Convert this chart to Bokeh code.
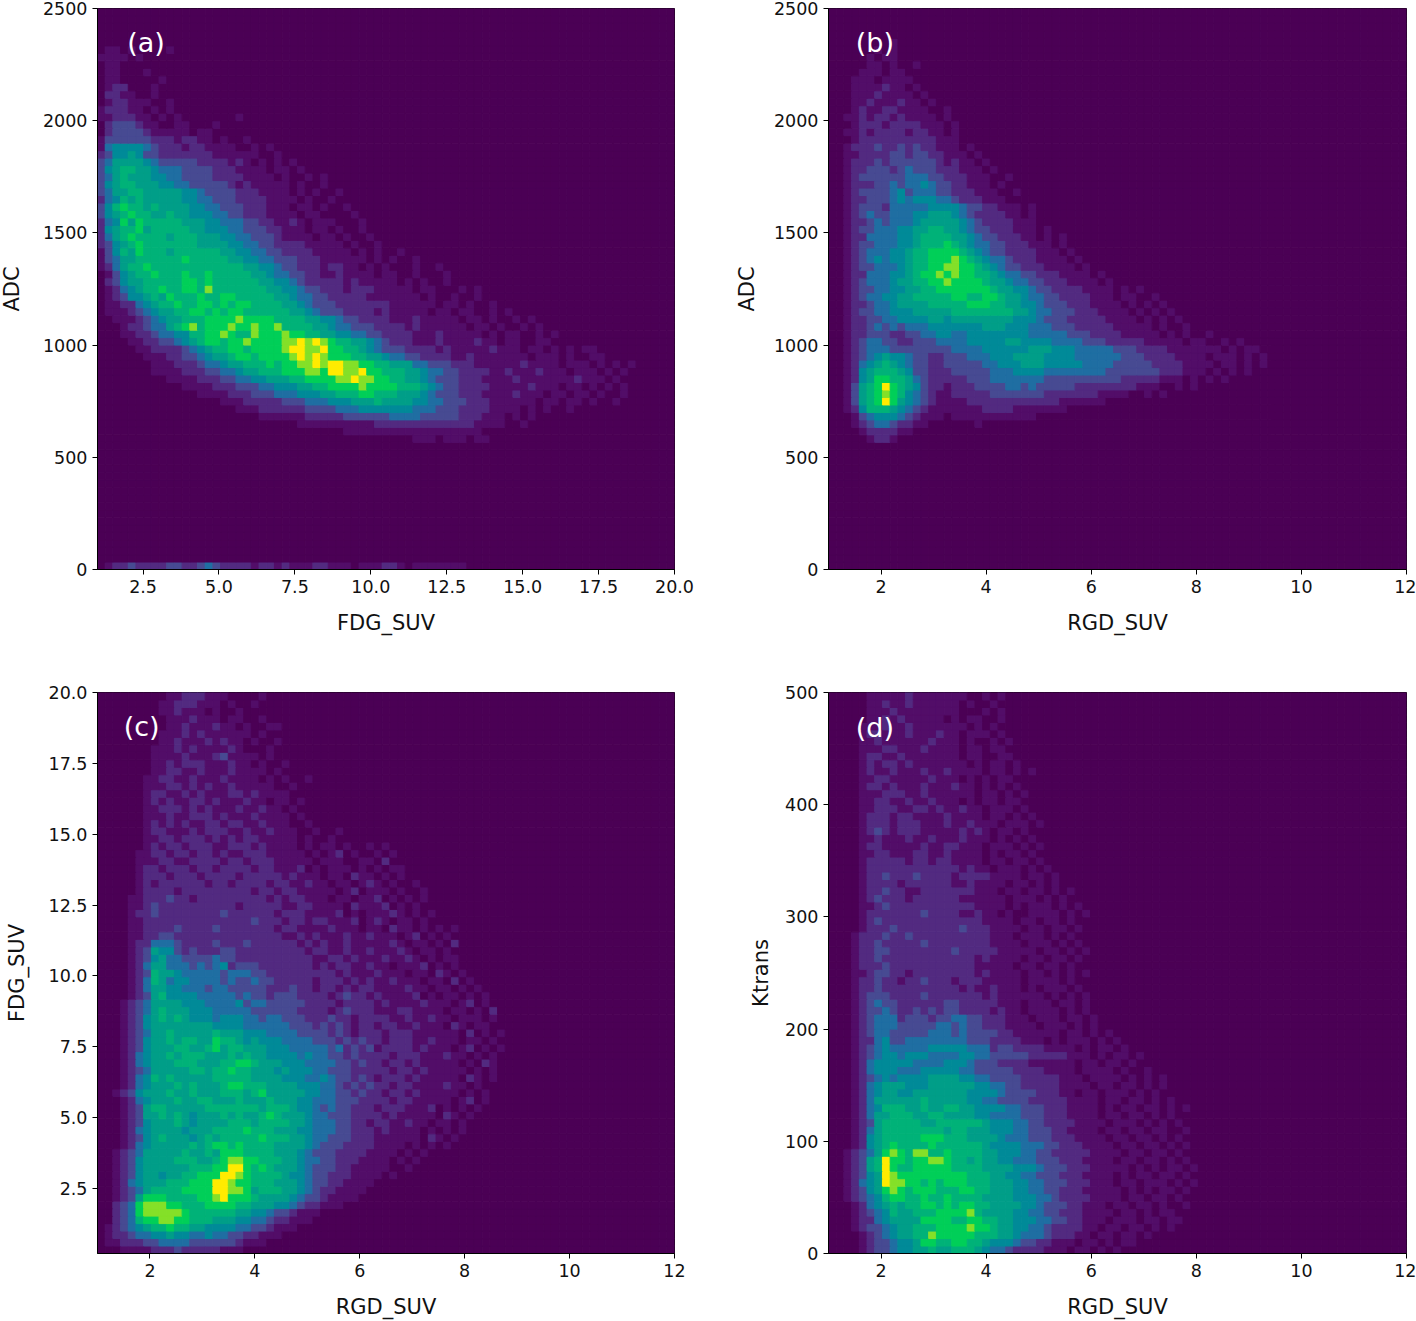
from bokeh.plotting import figure
from bokeh.models import FixedTicker, Label, LinearColorMapper, NumeralTickFormatter, ColumnDataSource
from bokeh.layouts import column, row
from bokeh.transform import transform
from bokeh.embed import file_html
from bokeh.resources import INLINE
import numpy as np

BINS = 75
PALETTE = ["#4b0055","#520d68","#522a80","#474a92","#1f6ea2","#008a98","#009e88","#00b278","#00cf58","#84e028","#ffeb00"]

# Colour level per bin (0..a), top row first, in chunks of five columns; omitted trailing bins are background.
grid_a = [
"00000","00000","00000","00000","00000","01101 00001","11110 10000","01100","01100 01","01100 00010",
"01220 00100","02211 00100","01221 11001","12221 10101","11222 11010 10000 00010","02333 21100 11000 10","02333 32111 11011 00",
"13333 33222 12211 01001","14555 54322 21221 11100 10100","23556 53322 22222 11111 10010","34666 65433 33322 22121 01010 1",
"35677 66544 43333 22211 11011 01","34676 66554 43333 22221 11101 00101","35677 66655 44333 33212 11111 01001",
"34667 76666 65543 33322 21111 01010 01","24576 76666 65544 33322 22111 10100 1","35787 76766 66554 43332 22111 01101 001",
"35678 77667 66555 44332 22111 10110 0001","24586 87777 76665 54443 32211 21011 10001","25677 86777 77665 55443 33221 11011 01001",
"24678 77776 77766 65544 33321 11101 10100 1","23567 87777 77766 66554 43322 22111 11010 01","13576 87776 77777 76655 44332 22211 11101 01001",
"13466 77777 78777 77665 54433 32221 11111 01010 01","12467 78777 77777 77776 65543 32221 22110 10100 01001","01356 77877 78778 77777 66544 33221 12111 10110 01000 1",
"02356 67777 78878 77777 76655 43222 22121 11110 10100 10","01245 67787 78879 77777 77665 54332 22122 21111 10110 00101","01235 56768 77787 78877 77766 54433 22222 11111 11010 01001",
"01122 45677 87788 78788 77776 65433 32222 22211 11110 11010 01","01112 34566 77887 87887 77777 66543 33222 21211 11101 10110 01010","00111 23456 67778 88898 88877 77665 54332 22211 12111 11011 01001 01",
"00012 23446 78978 88988 98897 77766 54433 32222 12111 11101 10100 10100","00011 22344 55778 89877 98889 88776 65544 33222 21112 11111 01011 00101","00001 12233 45678 87889 88889 9a9a9 87766 54322 21112 11112 11011 00110",
"00000 11222 23456 77887 88889 aa99a 88776 54333 22221 21111 12111 01101 01011","00000 01112 23345 66788 78888 9a9a9 88877 66544 33222 21121 11111 10111 01001 1","00000 00111 22234 45667 77878 899a9 aa998 87766 64433 32221 11111 21111 01110 10101",
"00000 00111 12223 34456 67778 88998 aa99a 88777 66544 33222 21121 11211 10111 01010","00000 00001 11122 23344 55666 77888 899a9 98877 66543 33222 11112 11111 11211 1010","00000 00000 01111 22233 34455 56677 88889 88887 77654 33222 21111 12111 01101 01010",
"00000 00000 00011 11222 33344 45556 67778 87776 66543 33222 11112 11101 10110 1001","00000 00000 00000 01112 22223 33444 55566 67666 65544 33322 21111 11011 01101 001","00000 00000 00000 00011 12222 22333 34445 55555 54443 33222 21111 01010 01",
"00000 00000 00000 00000 01111 11222 22333 33344 44333 33222 11101 01","00000 00000 00000 00000 00000 01111 11111 12222 22222 22221 11100 1","00000 00000 00000 00000 00000 00000 00111 11111 11111 11111 0",
"00000 00000 00000 00000 00000 00000 00000 00000 01110 11101 1",
] + [""] * 16 + ["01223 22223 32234 32222 12212 11122 11101 11221 01111 1110"]

grid_b = [
"","","","","00000 00010 0","00000 01010","00000 10110","00000 11010 01","00001 11011 0","00011 10111 10",
"00011 11211 01","00011 12111 10100","00011 21112 11010","00012 11221 11100 1","00112 12212 11110 1","00012 22122 22111 01","00112 12222 12211 010",
"00012 22222 22221 1100","00122 23223 23221 1101","00112 22233 23322 1110 1","00122 23233 33332 1211 01","00122 33323 43332 22111 01","00123 33333 44433 22211 1001",
"00122 23343 44543 32211 101","00123 33345 34443 32221 11001","00122 33345 45554 43222 11100","00123 33244 44455 55433 22111 01","00123 43344 45566 65432 22211 01","00122 34344 45666 66543 22221 11",
"00123 34445 56677 66543 32221 1101","00122 44445 56777 76654 33222 11010 1","00123 34445 56777 87654 43322 21110 1","00123 44455 67788 88765 43322 22111 01","00123 45455 67788 89876 54432 22111 101",
"00123 34445 67788 99887 65433 22211 1101","00122 44455 67889 89887 76544 33222 11110 1","00123 44456 67788 98888 76654 43322 21111 01","00123 34455 66778 88888 87665 54332 22211 11010 1","00123 44556 67777 78877 88766 54433 22221 11011 001",
"00122 34456 66677 77788 87766 55433 32221 11101 0101","00123 34455 56666 67777 77776 65443 33222 11110 10101","00122 33445 55566 56666 66665 55433 32222 21111 01010 1","00122 34343 44455 55555 66655 54443 33222 22111 11010 01",
"00122 33322 33445 54455 55555 54444 43332 22211 11101 01001","00123 44332 23334 44455 55566 55554 44433 32222 21111 10110 01010","00123 44433 33333 34444 55555 56665 55444 44333 22221 11111 10101 1","00123 45655 43322 33344 45556 66655 55444 44433 32222 11110 11101 01",
"00124 56765 43322 33333 44555 66655 55544 44333 33222 21111 01101 01","00125 67776 53322 23333 34445 55544 44444 43333 33322 21110 10101","00125 68877 64322 22233 34444 44433 33333 33322 22211 10101 01","00136 78a87 65322 12223 33344 34333 33222 22222 11100 1010",
"00136 78987 54321 12222 23333 33322 22222 11110 0101","00136 78a86 54321 11122 22222 22222 11111 10","00125 77765 43211 11111 22221 11111 100","00013 45554 32111 01111 11111 110","00012 34432 21100 00001 0","00001 22221 10000","00000 12210 00",
]
grid_c = [
"00000 00001 12221 11000 01000","00000 00011 22211 10100 1","00000 00011 21110 10010","00000 00001 11211 10110 01","00000 00001 12111 21101 0011",
"00000 00011 12121 11111 0100","00000 00011 21112 12110 10010","00000 00111 21211 11210 0010","00000 00111 12111 23111 10100","00000 00112 12221 11211 01001",
"00000 00112 21121 11211 11010","00000 01122 11211 12111 10101 001","00000 01112 21212 11211 11100 1","00000 01221 12121 11221 21111 0","00000 01212 11221 21112 11011 01",
"00000 01122 21212 11121 12110 1","00000 01112 11222 12111 21111 01","00000 01212 12112 21221 12111 0010","00000 01221 11212 22112 11211 10010 01","00000 01122 12221 21212 21111 10100 1",
"00000 01212 21222 11222 12111 10101 10100 101","00000 11221 22122 12112 22111 11010 12010 0101","00000 11122 11222 21221 22211 11101 11001 1020","00000 12212 22122 12222 12211 12010 11101 01011","00000 12221 22212 22212 22221 21110 11021 10101",
"00000 12122 22221 22122 22122 11211 01101 21010 01","00000 12222 12222 22222 12212 21111 10120 11101 001","00001 12223 22122 22222 22121 22111 01101 12010 101","00001 12322 22222 22212 22221 12211 11021 11201 01","00001 22322 22222 23222 22212 22111 12010 11121 0101",
"00001 12222 22222 22222 32221 22122 11120 12101 1010","00001 12222 32222 32222 22212 21111 21110 11021 10101 01","00001 12233 22222 22222 22221 12121 11211 21110 12010 1","00001 22444 32222 32223 22222 21212 11211 11121 01101 02","00001 23655 32322 23322 22222 22122 11211 21112 10110 1",
"00001 23564 43333 43322 22222 22211 22121 11211 21010 11","00001 24664 44343 45233 32222 22212 12211 21101 11201 01","00001 23766 54444 43444 33222 22222 21211 12111 01102 101","00001 24764 55444 43433 43322 22212 22121 21121 11011 0201","00001 24665 54443 44333 33222 32212 21212 21111 21101 10101",
"00001 23675 55544 44434 33233 32222 12322 12111 12010 11010 1","00012 34666 65554 44453 44333 33222 21222 21211 11211 10120 1","00012 34676 66555 44444 33333 32222 12322 21112 21111 01101 02","00012 35676 76555 45554 43443 33222 32212 22211 21121 10111 01","00012 35666 66666 55554 44444 33323 23212 21221 12111 02101 1",
"00012 34667 66666 76665 55444 43333 23212 22122 21111 11020 101","00012 35667 67766 87765 65554 44433 32323 22122 21121 11011 01","00012 35666 77667 86776 66555 44444 34232 31222 21211 10120 101","00012 45667 67776 66767 66555 54544 33232 22212 22111 21101 01","00012 45666 77766 67788 76665 55444 43323 22122 12111 11010 21",
"00012 34666 66776 77877 66656 55544 33322 22212 21211 11101 01","00012 45767 66666 77777 66665 55445 43323 21222 12111 11021 01","00012 45666 76766 67887 77666 65554 43232 32212 21111 21101","00123 56667 66766 67776 78666 66554 43323 22122 12111 11010 1","00012 45666 76677 66676 66766 65544 43332 22212 21111 10120 1",
"00012 36776 66667 77777 76777 65543 43322 21222 11120 10101","00012 36676 76566 67676 67876 66544 33322 22121 11110 21010","00012 35666 76566 66777 67777 66544 43322 12211 21101 1010","00012 45666 65666 77778 77766 65544 43322 21211 11010 101","00012 35676 66567 67777 78777 66544 33322 21111 11021 01",
"00012 45666 66767 88787 77766 66543 33222 21111 01010 1","00123 46666 67667 68887 77766 65433 32222 11110 1010","00123 56666 77766 78998 87776 65443 32221 11101 01","00123 56666 66777 88aa8 78766 65433 32211 11100 1","00123 56656 67788 8aa98 77776 55433 22211 1101",
"00124 56667 77888 aa988 77766 65433 22111 1","00123 46777 78888 aa998 67776 65432 21111","00123 68887 77788 9a888 76666 54332 11110","00234 89998 87778 88877 66655 43221 1100","00234 89999 98777 77766 55433 21110",
"00234 78899 88777 66655 44322 1110","01234 56778 77665 55544 33211 1","01223 44556 55445 44332 21110","01122 23344 44333 33321 1100","00011 11222 32222 21110",
]
grid_d = [
"00000 11111 21111 11100 10100","00000 11211 21111 11010 01","00000 11121 11111 11000 101","00000 11212 11111 01011 001","00001 11211 21111 11101 01",
"00001 22111 21112 11011 1010","00001 12111 11121 11010 0101","00001 11221 11211 11011 0110","00001 22112 11111 11011 00110","00001 21221 21111 11101 01101",
"00001 21121 11211 21111 01101 01","00001 12211 11121 11010 10110","00001 22121 11211 12110 10101","00001 11222 11211 11110 11010 1","00001 12211 21121 11010 11011",
"00001 12221 12212 11211 01110 1","00001 22212 21111 21111 01101 01","00001 22212 22111 21121 11011 101","00001 23212 22111 11212 10110 1","00001 12111 21121 11211 10101 01",
"00001 22111 11211 22111 01110 101","00001 12211 12211 21111 01011 01","00001 22222 12212 21111 01101 1010","00001 22222 22222 22121 10111 0101","00001 22322 23222 21222 21111 01101",
"00001 22221 22222 21121 11101 10101","00001 22322 11222 22221 11011 01101 01","00001 23222 12222 22111 11101 11010 1","00001 12322 22222 22221 11101 01110 101","00001 22222 22322 22112 11010 01111 0101",
"00001 23222 22222 22222 11110 11011 01","00001 22232 22222 22322 21111 01101 101","00012 22322 32222 22222 21110 11101 01","00012 23222 22322 22222 21111 01110 101","00012 23322 22222 23222 22111 11011 0101",
"00012 23222 22222 22221 21111 01101 101","00012 22322 22222 22221 11110 11011 01","00011 23322 12222 22221 21111 01101 0101","00012 23221 22322 21222 11111 01111 01","00012 23222 22222 22121 12111 01011 1010",
"00012 33322 22322 22222 12111 11101 0101","00012 34332 22222 33222 22111 01110 1101","00012 33432 23232 33222 21211 01111 0101","00012 34442 33323 34433 22211 10111 01101","00012 34443 33334 43433 22211 11011 10101",
"00012 34433 33344 43433 33221 11111 01101 01","00012 24533 44444 44433 32222 11101 01110 101","00012 34544 44455 55544 42332 22211 11010 1101","00012 34554 55544 44554 43333 32222 21110 10110 1","00012 45555 54444 55543 33222 21111 11011 01101",
"00012 45554 44555 55443 33332 22211 11011 11010 01","00012 34545 55566 66554 43333 22222 11101 11101 0101","00012 45666 55566 66665 54433 22222 11110 11011 01010","00012 45665 56666 66655 55433 33222 11011 01110 1010","00012 46666 66766 66655 44333 32222 21111 01101 10101",
"00012 45777 66766 77665 55544 33322 21111 01011 01101 01","00012 46677 76677 66665 54444 33322 21111 01101 10101 0","00012 36777 77667 77777 65554 43322 22111 10111 01010 1","00012 46777 77777 67766 65554 43332 21111 01101 10110 01","00012 56777 77888 77766 66544 43332 22111 10110 11010 1",
"00012 56787 77787 77777 65555 44433 22211 11011 01101 01","00123 46898 79977 87777 66555 44332 22221 11101 10110 1","00123 67a88 78899 87767 66554 44333 22211 11011 01101 01","00123 67a87 78888 87777 66665 55433 32221 11110 10101 101","00123 56a98 88888 88877 76655 44333 22211 11010 11011 01",
"00124 56a99 88787 88877 76665 54433 32221 11011 01110 101","00123 56898 78887 77887 76665 54433 22211 11101 01011 01","00123 45788 77877 87777 66665 55443 22221 11101 10110 1","00012 45676 77887 87887 76666 55433 32211 10110 11010 01","00012 34576 67778 88897 66665 54433 22211 11011 01011 0",
"00012 24566 66888 87788 77665 55443 32211 10111 01101 1","00012 33456 67778 88898 87665 54432 22211 01101 10101","00001 23456 67798 88887 77665 44432 22110 11011 01","00001 23345 56887 78877 65554 33221 11011 01011","00001 23345 56676 67776 54432 22211 10110 101",
]

panels = [
    dict(grid=grid_a, xr=(1, 20), yr=(0, 2500), xt=[2.5,5,7.5,10,12.5,15,17.5,20], yt=[0,500,1000,1500,2000,2500],
         xl="FDG_SUV", yl="ADC", tag="(a)", tx=1.98, ty=2350, xf="0.0", yf="0", ysd=16),
    dict(grid=grid_b, xr=(1, 12), yr=(0, 2500), xt=[2,4,6,8,10,12], yt=[0,500,1000,1500,2000,2500],
         xl="RGD_SUV", yl="ADC", tag="(b)", tx=1.52, ty=2350, xf="0", yf="0", ysd=12),
    dict(grid=grid_c, xr=(1, 12), yr=(0.2, 20), xt=[2,4,6,8,10,12], yt=[2.5,5,7.5,10,12.5,15,17.5,20],
         xl="RGD_SUV", yl="FDG_SUV", tag="(c)", tx=1.5, ty=18.8, xf="0", yf="0.0", ysd=17),
    dict(grid=grid_d, xr=(1, 12), yr=(0, 500), xt=[2,4,6,8,10,12], yt=[0,100,200,300,400,500],
         xl="RGD_SUV", yl="Ktrans", tag="(d)", tx=1.52, ty=469, xf="0", yf="0", ysd=9),
]

def make(cfg, left, fw, right, top, bottom, margin=0):
    p = figure(output_backend="svg", toolbar_location=None,
               frame_width=fw, frame_height=561, width=left + fw + right, height=top + 561 + bottom,
               min_border_left=left, min_border_right=right, min_border_top=top, min_border_bottom=bottom,
               x_range=cfg["xr"], y_range=cfg["yr"], margin=margin)
    rows = [r.replace(" ", "") for r in cfg["grid"]]
    rows = (rows + [""] * BINS)[:BINS]
    rows = [r.ljust(BINS, "0")[:BINS] for r in rows]
    lev = np.array([[int(c, 16) for c in r] for r in rows[::-1]], dtype=float)
    xe = np.linspace(*cfg["xr"], BINS + 1)
    ye = np.linspace(*cfg["yr"], BINS + 1)
    ix, iy = np.meshgrid(np.arange(BINS), np.arange(BINS))
    src = ColumnDataSource(dict(left=xe[ix.ravel()], right=xe[ix.ravel() + 1],
                                bottom=ye[iy.ravel()], top=ye[iy.ravel() + 1], v=lev.ravel()))
    mapper = LinearColorMapper(palette=PALETTE, low=-0.5, high=10.5)
    p.quad(left="left", right="right", bottom="bottom", top="top", source=src,
           fill_color=transform("v", mapper), line_color=transform("v", mapper), line_width=1)
    p.grid.visible = False
    p.outline_line_color = "#000000"
    p.outline_line_width = 1
    for ax, ticks, lab, fmt, sd in ((p.xaxis[0], cfg["xt"], cfg["xl"], cfg["xf"], 15), (p.yaxis[0], cfg["yt"], cfg["yl"], cfg["yf"], cfg["ysd"])):
        ax.ticker = FixedTicker(ticks=ticks)
        ax.formatter = NumeralTickFormatter(format=fmt)
        ax.axis_label = lab
        ax.axis_label_text_font = "DejaVu Sans"
        ax.axis_label_text_font_style = "normal"
        ax.axis_label_text_font_size = "21px"
        ax.major_label_text_font = "DejaVu Sans"
        ax.major_label_text_font_size = "17.5px"
        ax.major_label_text_color = "#111111"
        ax.axis_label_text_color = "#111111"
        ax.minor_tick_line_color = None
        ax.major_tick_in = 0
        ax.major_tick_out = 5
        ax.major_tick_line_color = "#000000"
        ax.axis_line_color = "#000000"
        ax.major_label_standoff = 5
        ax.axis_label_standoff = sd
    p.add_layout(Label(x=cfg["tx"], y=cfg["ty"], text=cfg["tag"], text_color="#ffffff",
                       text_font="DejaVu Sans", text_font_size="27px", text_baseline="middle"))
    return p

fa = make(panels[0], 101, 577, 54, 8, 115, margin=(0, 0, 0, -4))
fb = make(panels[1], 100, 578, 10, 8, 115)
fc = make(panels[2], 97, 577, 54, 8, 68)
fd = make(panels[3], 100, 578, 10, 8, 68)
layout = column(row(fa, fb, margin=0), row(fc, fd, margin=0), spacing=0, margin=0)
open("out.html", "w").write(file_html(layout, INLINE))
